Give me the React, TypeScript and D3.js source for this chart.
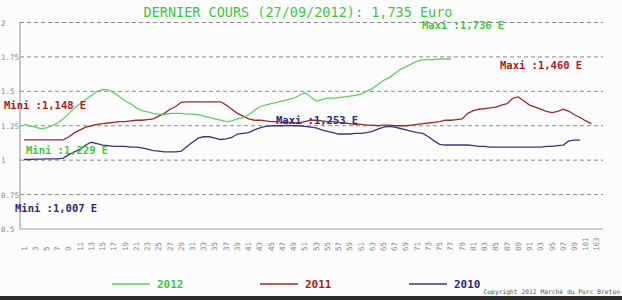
import React from "react";
import * as d3 from "d3";

const title = "DERNIER COURS (27/09/2012): 1,735 Euro";

const series2012: number[] = [
  1.26, 1.25, 1.24, 1.229, 1.235, 1.25, 1.27, 1.3, 1.34, 1.38,
  1.41, 1.44, 1.47, 1.5, 1.514, 1.51, 1.49, 1.46, 1.43, 1.41,
  1.38, 1.36, 1.35, 1.34, 1.335, 1.33, 1.34, 1.34, 1.34, 1.335,
  1.335, 1.33, 1.32, 1.31, 1.3, 1.29, 1.28, 1.285, 1.3, 1.31,
  1.33, 1.36, 1.39, 1.4, 1.41, 1.42, 1.43, 1.44, 1.45, 1.47,
  1.49, 1.46, 1.43, 1.44, 1.45, 1.45, 1.455, 1.46, 1.465, 1.47,
  1.48, 1.5, 1.52, 1.55, 1.58, 1.6, 1.63, 1.66, 1.68, 1.7,
  1.72, 1.73, 1.73, 1.73, 1.735, 1.736, 1.735,
];

const series2011: number[] = [
  1.148, 1.148, 1.148, 1.148, 1.148, 1.148, 1.148, 1.148, 1.17, 1.2,
  1.22, 1.24, 1.25, 1.26, 1.265, 1.27, 1.275, 1.28, 1.28, 1.285,
  1.29, 1.29, 1.295, 1.3, 1.32, 1.34, 1.37, 1.39, 1.42, 1.424,
  1.424, 1.424, 1.424, 1.424, 1.424, 1.424, 1.4, 1.37, 1.34, 1.32,
  1.3, 1.29, 1.29, 1.285, 1.28, 1.28, 1.275, 1.275, 1.27, 1.27,
  1.28, 1.29, 1.29, 1.285, 1.28, 1.28, 1.275, 1.27, 1.265, 1.26,
  1.26, 1.255, 1.255, 1.25, 1.255, 1.255, 1.25, 1.25, 1.25, 1.255,
  1.26, 1.265, 1.27, 1.275, 1.28, 1.29, 1.29, 1.295, 1.3, 1.34,
  1.36, 1.37, 1.375, 1.38, 1.385, 1.4, 1.41, 1.45, 1.46, 1.43,
  1.4, 1.385, 1.37, 1.355, 1.345, 1.355, 1.37, 1.355, 1.33, 1.31,
  1.285, 1.265,
];

const series2010: number[] = [
  1.005, 1.005, 1.007, 1.007, 1.01, 1.01, 1.01, 1.015, 1.04, 1.06,
  1.08, 1.11, 1.13, 1.12, 1.11, 1.105, 1.1, 1.1, 1.1, 1.095,
  1.095, 1.09, 1.08, 1.07, 1.065, 1.06, 1.06, 1.06, 1.065, 1.1,
  1.13, 1.16, 1.17, 1.17, 1.16, 1.15, 1.155, 1.165, 1.19, 1.195,
  1.2, 1.22, 1.235, 1.245, 1.25, 1.25, 1.25, 1.253, 1.25, 1.25,
  1.245, 1.24, 1.235, 1.22, 1.21, 1.2, 1.19, 1.19, 1.19, 1.195,
  1.195, 1.2, 1.21, 1.225, 1.24, 1.245, 1.24, 1.23, 1.22, 1.21,
  1.2, 1.195, 1.17, 1.14, 1.115, 1.11, 1.11, 1.11, 1.11, 1.11,
  1.105, 1.1, 1.1, 1.095, 1.095, 1.095, 1.095, 1.095, 1.095, 1.095,
  1.095, 1.095, 1.095, 1.1, 1.1, 1.105, 1.11, 1.14, 1.145, 1.145,
];

const yTicks: number[] = [2, 1.75, 1.5, 1.25, 1, 0.75, 0.5];
const yTickLabels: string[] = ["2", "1.75", "1.5", "1.25", "1", "0.75", "0.5"];
const xTickLabels: number[] = d3.range(1, 104, 2);

const legendYears = ["2012", "2011", "2010"];

const GREEN = "#62cf62";
const GREEN_TEXT = "#3fc83f";
const RED = "#9b2a2a";
const RED_TEXT = "#b01818";
const BLUE = "#36377e";
const BLUE_TEXT = "#2a2a7a";

export default function App() {
  const x = d3.scaleLinear().domain([1, 104]).range([24, 602.6]);
  const y = d3.scaleLinear().domain([0.5, 2]).range([229, 22.5]);
  const line = d3
    .line<number>()
    .x((_, i) => x(i + 1))
    .y((d) => y(d));

  const mono = "'DejaVu Sans Mono', 'Liberation Mono', monospace";

  const annotations = [
    { text: "Maxi :1,736 E", x: 422, y: y(2) + 6, color: GREEN_TEXT },
    { text: "Maxi :1,460 E", x: 500, y: 69, color: RED_TEXT },
    { text: "Mini :1,148 E", x: 4, y: 109, color: RED_TEXT },
    { text: "Maxi :1,253 E", x: 276, y: 124, color: BLUE_TEXT },
    { text: "Mini :1,229 E", x: 26, y: 154, color: GREEN_TEXT },
    { text: "Mini :1,007 E", x: 15, y: 212, color: BLUE_TEXT },
  ];

  const legend = [
    { year: legendYears[0], x0: 112, color: GREEN, tcolor: GREEN_TEXT },
    { year: legendYears[1], x0: 260, color: RED, tcolor: RED_TEXT },
    { year: legendYears[2], x0: 409, color: BLUE, tcolor: BLUE_TEXT },
  ];

  return (
    <svg
      width={622}
      height={300}
      style={{ position: "absolute", left: 0, top: 0, background: "#fcfcfc" }}
    >
      <rect x={0} y={0} width={622} height={300} fill="#fcfcfc" />
      {/* grid */}
      {yTicks.slice(0, 6).map((t) => (
        <line
          key={t}
          x1={20}
          x2={603}
          y1={y(t)}
          y2={y(t)}
          stroke="#8a8a8a"
          strokeWidth={1}
          strokeDasharray="4,3"
        />
      ))}
      {/* axes */}
      <line x1={20} x2={20} y1={y(2)} y2={y(0.5)} stroke="#a0a0a0" strokeWidth={1.2} />
      <line x1={20} x2={603} y1={y(0.5)} y2={y(0.5)} stroke="#a0a0a0" strokeWidth={1.2} />
      {/* y tick labels */}
      {yTicks.map((t, i) => (
        <text
          key={"yl" + t}
          x={1}
          y={y(t) + 3}
          fontFamily={mono}
          fontSize={7.5}
          fill="#888"
        >
          {yTickLabels[i]}
        </text>
      ))}
      {/* x tick labels */}
      {xTickLabels.map((t) => (
        <text
          key={"xl" + t}
          transform={`translate(${x(t) + 2.5},251) rotate(-90)`}
          fontFamily={mono}
          fontSize={7.5}
          fill="#888"
        >
          {t}
        </text>
      ))}
      {/* series */}
      <path d={line(series2011) || ""} fill="none" stroke={RED} strokeWidth={1.3} />
      <path d={line(series2010) || ""} fill="none" stroke={BLUE} strokeWidth={1.3} />
      <path d={line(series2012) || ""} fill="none" stroke={GREEN} strokeWidth={1.3} />
      {/* title */}
      <text
        x={298}
        y={17}
        textAnchor="middle"
        fontFamily={mono}
        fontSize={13.5}
        fill={GREEN_TEXT}
      >
        {title}
      </text>
      {/* annotations */}
      {annotations.map((a) => (
        <text
          key={a.text + a.x}
          x={a.x}
          y={a.y}
          fontFamily={mono}
          fontSize={10.5}
          fontWeight="bold"
          fill={a.color}
        >
          {a.text}
        </text>
      ))}
      {/* legend */}
      {legend.map((l) => (
        <g key={l.year}>
          <line x1={l.x0} x2={l.x0 + 38} y1={284} y2={284} stroke={l.color} strokeWidth={1.3} />
          <text
            x={l.x0 + 45}
            y={288}
            fontFamily={mono}
            fontSize={11}
            fontWeight="bold"
            fill={l.tcolor}
          >
            {l.year}
          </text>
        </g>
      ))}
      <text
        x={620}
        y={294}
        textAnchor="end"
        fontFamily={mono}
        fontSize={6.3}
        fill="#555"
      >
        Copyright 2012 Marché du Porc Breton
      </text>
      <rect x={0} y={296} width={622} height={4} fill="#2a2a2a" />
    </svg>
  );
}
